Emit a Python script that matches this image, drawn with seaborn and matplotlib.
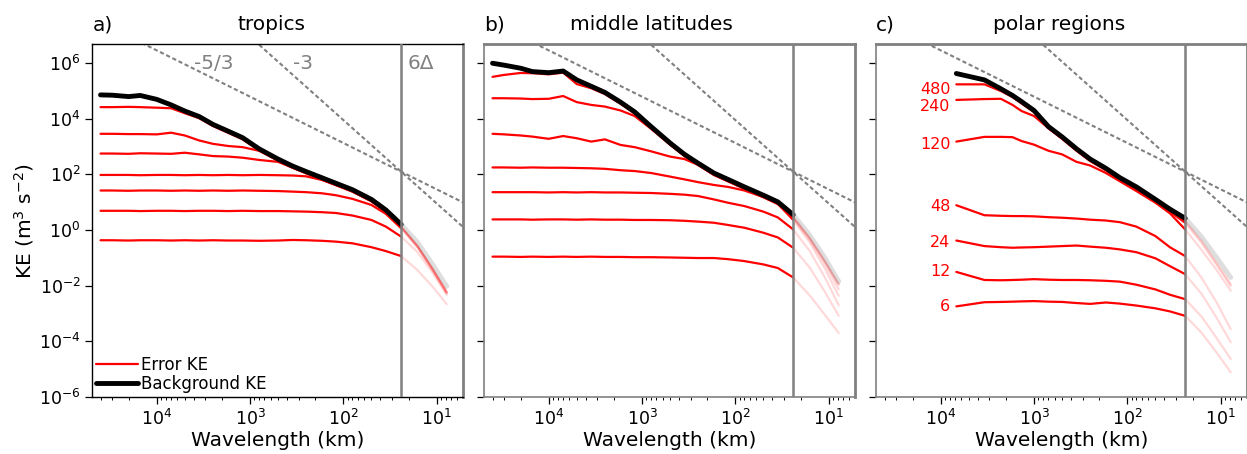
import numpy as np
import matplotlib
matplotlib.use("Agg")
import matplotlib.pyplot as plt
from matplotlib.lines import Line2D
from matplotlib.ticker import FixedLocator, LogFormatterSciNotation, NullLocator
import seaborn as sns

# wavelengths (km) where the spectra were read
WL_AB = [40000, 30000, 20000, 15000, 10000, 7000, 5000, 3500, 2500, 1700, 1200,
         800, 500, 350, 250, 170, 120, 80, 50, 35, 24, 16, 11, 7.8]
WL_C = [6800, 3400, 2267, 1700, 1360, 1000, 700, 500, 350, 250, 170, 120,
        80, 50, 35, 24, 16, 11, 7.8]

# log10 of KE (m^3 s^-2)
BG_TROP = [4.86, 4.85, 4.80, 4.84, 4.70, 4.50, 4.28, 4.08, 3.80, 3.55, 3.32, 2.92,
           2.55, 2.30, 2.10, 1.88, 1.68, 1.45, 1.10, 0.72, 0.20, -0.45, -1.25, -2.03]
ERR_TROP = [
    [4.42, 4.42, 4.43, 4.42, 4.40, 4.38, 4.20, 4.02, 3.74, 3.49, 3.26, 2.86,
     2.49, 2.24, 2.04, 1.82, 1.62, 1.39, 1.04, 0.66, 0.12, -0.58, -1.40, -2.22],
    [3.46, 3.46, 3.45, 3.45, 3.44, 3.50, 3.40, 3.22, 3.10, 3.02, 2.98, 2.85,
     2.50, 2.25, 2.05, 1.83, 1.63, 1.40, 1.05, 0.67, 0.11, -0.58, -1.42, -2.24],
    [2.75, 2.75, 2.74, 2.76, 2.75, 2.74, 2.78, 2.72, 2.66, 2.64, 2.60, 2.52,
     2.45, 2.24, 2.04, 1.82, 1.62, 1.39, 1.04, 0.66, 0.10, -0.60, -1.43, -2.25],
    [1.98, 1.98, 1.98, 1.97, 1.98, 1.98, 1.97, 1.98, 1.97, 1.98, 1.97, 1.98,
     1.97, 1.96, 1.93, 1.80, 1.61, 1.38, 1.03, 0.65, 0.09, -0.61, -1.44, -2.26],
    [1.42, 1.42, 1.41, 1.42, 1.42, 1.41, 1.42, 1.41, 1.42, 1.41, 1.42, 1.41,
     1.40, 1.38, 1.36, 1.32, 1.25, 1.12, 0.90, 0.58, 0.06, -0.63, -1.46, -2.28],
    [0.69, 0.69, 0.69, 0.68, 0.69, 0.69, 0.68, 0.69, 0.69, 0.68, 0.69, 0.68,
     0.68, 0.67, 0.66, 0.64, 0.61, 0.52, 0.36, 0.12, -0.24, -0.80, -1.55, -2.34],
    [-0.37, -0.37, -0.38, -0.37, -0.37, -0.38, -0.37, -0.38, -0.37, -0.38, -0.38, -0.39,
     -0.38, -0.36, -0.37, -0.39, -0.42, -0.48, -0.62, -0.76, -0.94, -1.45, -2.05, -2.67],
]

BG_MID = [6.00, 5.93, 5.82, 5.70, 5.66, 5.72, 5.40, 5.17, 4.95, 4.60, 4.25, 3.72,
          3.13, 2.72, 2.40, 2.05, 1.82, 1.55, 1.25, 1.01, 0.55, -0.18, -1.00, -1.85]
ERR_MID = [
    [5.51, 5.58, 5.65, 5.64, 5.60, 5.66, 5.25, 5.10, 4.89, 4.54, 4.19, 3.66,
     3.07, 2.66, 2.34, 1.99, 1.76, 1.49, 1.19, 0.95, 0.47, -0.28, -1.12, -1.95],
    [4.74, 4.74, 4.73, 4.71, 4.72, 4.82, 4.60, 4.50, 4.44, 4.30, 4.10, 3.64,
     3.07, 2.66, 2.34, 1.99, 1.76, 1.49, 1.19, 0.95, 0.45, -0.30, -1.13, -1.97],
    [3.46, 3.44, 3.40, 3.36, 3.28, 3.38, 3.30, 3.18, 3.26, 3.06, 2.98, 2.83,
     2.64, 2.55, 2.34, 1.98, 1.75, 1.48, 1.18, 0.93, 0.42, -0.35, -1.22, -2.13],
    [2.25, 2.25, 2.24, 2.25, 2.24, 2.24, 2.23, 2.22, 2.20, 2.15, 2.12, 2.05,
     1.92, 1.82, 1.72, 1.62, 1.55, 1.42, 1.18, 0.94, 0.36, -0.44, -1.38, -2.37],
    [1.36, 1.36, 1.36, 1.36, 1.35, 1.36, 1.35, 1.36, 1.35, 1.35, 1.34, 1.33,
     1.30, 1.27, 1.22, 1.10, 0.98, 0.86, 0.66, 0.45, 0.02, -0.75, -1.70, -2.71],
    [0.38, 0.38, 0.38, 0.37, 0.38, 0.38, 0.37, 0.38, 0.37, 0.37, 0.36, 0.36,
     0.35, 0.33, 0.30, 0.26, 0.18, 0.08, -0.10, -0.27, -0.64, -1.35, -2.22, -3.09],
    [-0.96, -0.96, -0.97, -0.96, -0.97, -0.96, -0.97, -0.96, -0.97, -0.97, -0.98, -0.98,
     -0.99, -1.00, -1.01, -1.01, -1.05, -1.12, -1.24, -1.37, -1.71, -2.35, -3.05, -3.71],
]

BG_POL = [5.63, 5.40, 5.08, 4.84, 4.62, 4.30, 3.72, 3.35, 2.92, 2.55, 2.22, 1.88,
          1.55, 1.10, 0.75, 0.42, -0.25, -1.00, -1.71]
ERR_POL = [
    [5.24, 5.24, 5.00, 4.78, 4.55, 4.24, 3.66, 3.29, 2.86, 2.49, 2.16, 1.82,
     1.48, 1.03, 0.68, 0.32, -0.40, -1.20, -1.95],
    [4.68, 4.71, 4.72, 4.50, 4.28, 4.10, 3.66, 3.28, 2.85, 2.48, 2.15, 1.80,
     1.46, 1.01, 0.66, 0.26, -0.47, -1.26, -2.02],
    [3.18, 3.35, 3.35, 3.34, 3.20, 3.07, 2.85, 2.72, 2.45, 2.32, 2.05, 1.75,
     1.40, 0.98, 0.60, 0.02, -0.72, -1.45, -2.19],
    [0.89, 0.53, 0.51, 0.50, 0.50, 0.49, 0.46, 0.44, 0.41, 0.37, 0.34, 0.28,
     0.12, -0.22, -0.62, -0.94, -1.72, -2.62, -3.57],
    [-0.38, -0.58, -0.62, -0.64, -0.63, -0.62, -0.60, -0.58, -0.56, -0.60, -0.64, -0.70,
     -0.80, -1.02, -1.30, -1.59, -2.30, -3.17, -4.04],
    [-1.51, -1.80, -1.81, -1.80, -1.79, -1.77, -1.79, -1.80, -1.80, -1.81, -1.83, -1.86,
     -1.97, -2.14, -2.33, -2.49, -3.12, -3.90, -4.64],
    [-2.75, -2.60, -2.59, -2.58, -2.57, -2.56, -2.58, -2.59, -2.63, -2.66, -2.61, -2.65,
     -2.72, -2.82, -2.93, -3.09, -3.70, -4.42, -5.12],
]
LEAD_HOURS = ["480", "240", "120", "48", "24", "12", "6"]
LEAD_LABEL_Y = [5.06, 4.46, 3.09, 0.85, -0.46, -1.48, -2.75]

TITLES = ["tropics", "middle latitudes", "polar regions"]
LETTERS = ["a)", "b)", "c)"]
CUTOFF_KM = 24          # 6 delta
REF_POINT = (24, 125)   # where the -5/3 and -3 guide lines cross
REF_SLOPES = [5 / 3, 3]
Y_TICKS = [1e-6, 1e-4, 1e-2, 1e0, 1e2, 1e4, 1e6]

sns.set_style("ticks")
plt.rcParams['font.family'] = ['DejaVu Sans']
plt.rcParams['mathtext.fontset'] = 'dejavusans'
plt.rcParams.update({'text.color': 'black', 'axes.labelcolor': 'black',
                     'xtick.color': 'black', 'ytick.color': 'black'})

GREY = '#808080'
XLIM = (4.9e4, 5.18)
YLIM = (1e-6, 4.8e6)

fig = plt.figure(figsize=(12.47, 4.54), dpi=100)
W, H = 1247.0, 454.0
lefts = [92.3, 484.3, 876.3]
axes = [fig.add_axes([l / W, 1 - 396.7 / H, 371 / W, (396.7 - 44.3) / H]) for l in lefts]

panels = [(WL_AB, BG_TROP, ERR_TROP), (WL_AB, BG_MID, ERR_MID), (WL_C, BG_POL, ERR_POL)]
title_x = [0.484, 0.451, 0.492]

for i, (ax, (wl, bg, errs)) in enumerate(zip(axes, panels)):
    ax.set_xscale('log')
    ax.set_yscale('log')
    wl = np.array(wl)
    solid = wl >= CUTOFF_KM
    faded = wl <= CUTOFF_KM

    for err in errs:
        ke = 10 ** np.array(err)
        sns.lineplot(x=wl[solid], y=ke[solid], ax=ax, color='red', lw=1.6,
                     estimator=None, sort=False, zorder=3)
        sns.lineplot(x=wl[faded], y=ke[faded], ax=ax, color='red', lw=1.6, alpha=0.15,
                     estimator=None, sort=False, zorder=2)
    kb = 10 ** np.array(bg)
    sns.lineplot(x=wl[solid], y=kb[solid], ax=ax, color='black', lw=3.5,
                 estimator=None, sort=False, zorder=4)
    sns.lineplot(x=wl[faded], y=kb[faded], ax=ax, color='black', lw=3.5, alpha=0.13,
                 estimator=None, sort=False, zorder=2)

    # guide lines through the common point
    for s in REF_SLOPES:
        xs = np.array(XLIM)
        ys = REF_POINT[1] * (xs / REF_POINT[0]) ** s
        ax.plot(xs, ys, color=GREY, lw=1.5, ls=(0, (2, 1.3)), zorder=1)
    ax.axvline(CUTOFF_KM, color=GREY, lw=1.8, zorder=5)

    ax.set_xlim(*XLIM)
    ax.set_ylim(*YLIM)
    ax.yaxis.set_major_locator(FixedLocator(Y_TICKS))
    ax.yaxis.set_major_formatter(LogFormatterSciNotation())
    ax.yaxis.set_minor_locator(NullLocator())
    ax.tick_params(axis='both', which='major', labelsize=12.5, length=5, width=0.9,
                   color='black', labelcolor='black')
    ax.tick_params(axis='x', which='minor', length=2.5, width=0.7, color='black')
    ax.set_xlabel('Wavelength (km)', fontsize=14.5, labelpad=2)
    ax.set_title(TITLES[i], fontsize=14.5, x=title_x[i], pad=10)
    ax.set_title(LETTERS[i], fontsize=14.5, loc='left', pad=10)

    if i == 0:
        for sp in ['left', 'bottom', 'top']:
            ax.spines[sp].set_color('black')
            ax.spines[sp].set_linewidth(1.0)
        ax.spines['right'].set_color(GREY)
        ax.spines['right'].set_linewidth(2.0)
        ax.set_ylabel('KE (m$^3$ s$^{-2}$)', fontsize=14.5, labelpad=2)
    else:
        for sp in ax.spines.values():
            sp.set_color(GREY)
            sp.set_linewidth(1.2)
        ax.spines['top'].set_linewidth(2.0)
        ax.spines['right'].set_linewidth(2.0)
        ax.tick_params(axis='y', labelleft=False)
        ax.set_ylabel('')

# slope and cutoff annotations in panel a
ax = axes[0]
ax.text(2430, 1e6, '-5/3', color=GREY, fontsize=14.5, ha='center', va='center')
ax.text(270, 1e6, '-3', color=GREY, fontsize=14.5, ha='center', va='center')
ax.text(20.3, 1e6, '6\u0394', color=GREY, fontsize=14.5, ha='left', va='center')

handles = [Line2D([], [], color='red', lw=1.6, label='Error KE'),
           Line2D([], [], color='black', lw=3.5, label='Background KE')]
ax.legend(handles=handles, loc='lower left', frameon=False, fontsize=12,
          handlelength=2.5, handletextpad=0.2, labelspacing=0.02,
          borderpad=0.2, borderaxespad=0.05)

# lead-time labels in panel c
ax = axes[2]
for lab, y in zip(LEAD_HOURS, LEAD_LABEL_Y):
    ax.text(7900, 10 ** y, lab, color='red', fontsize=11.5, ha='right', va='center')

fig.savefig('out.png', dpi=100)
